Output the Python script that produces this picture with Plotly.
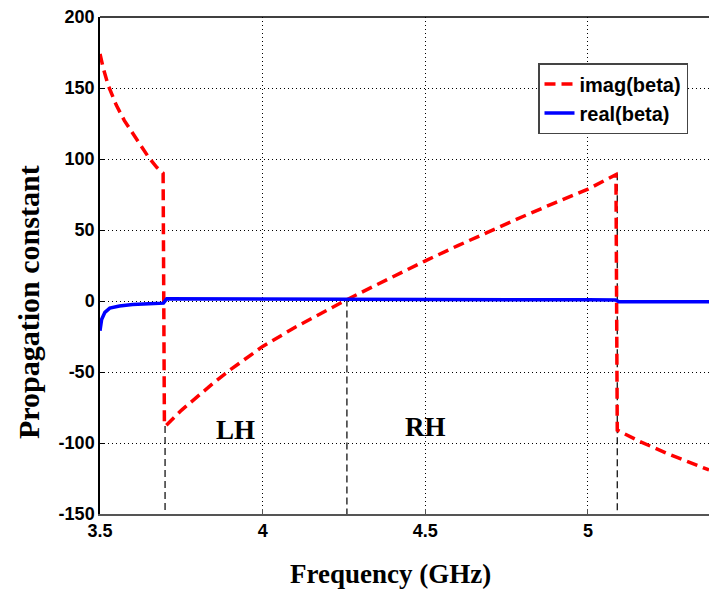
import plotly.graph_objects as go

# imag(beta) segments
imag_x = [3.5, 3.51, 3.525, 3.55, 3.575, 3.6, 3.625, 3.65, 3.675, 3.694, 3.698,
          3.702, 3.75, 3.8, 3.85, 3.9, 3.95, 4.0, 4.1, 4.2, 4.255, 4.3, 4.4, 4.5,
          4.6, 4.7, 4.8, 4.9, 5.0, 5.086, 5.09,
          5.095, 5.16, 5.25, 5.372]
imag_y = [174, 164, 152, 138, 127, 118, 109, 101, 94, 90, -87,
          -88, -77, -67, -57.5, -48.5, -40, -32, -18.5, -6, 0.5, 5.7, 17.2, 28.3,
          39, 49.4, 59.5, 69.3, 78.8, 89, -91,
          -91.5, -99, -108, -119]

# real(beta)
real_x = [3.5, 3.505, 3.515, 3.53, 3.56, 3.6, 3.65, 3.695, 3.705, 4.0, 4.5, 5.0, 5.085, 5.095, 5.372]
real_y = [-21, -13, -8, -5, -3.5, -2.5, -2, -1.5, 1.5, 1.2, 1.0, 0.8, 0.7, -0.6, -0.6]

# boundary markers (vertical dashed lines)
mark_x = [3.7, 3.7, None, 4.259, 4.259, None, 5.09, 5.09]
mark_y = [-88, -150, None, 1, -150, None, 90, -150]

x_ticks = [3.5, 4, 4.5, 5]
y_ticks = [-150, -100, -50, 0, 50, 100, 150, 200]
region_labels = ["LH", "RH"]
region_x = [3.918, 4.5]
region_y = [-91, -89]
box_x0 = [3.80, 4.375]
box_x1 = [4.115, 4.77]
box_y0 = [-110, -110]
box_y1 = [-75, -75]

fig = go.Figure()
fig.add_trace(go.Scatter(x=mark_x, y=mark_y, mode="lines", showlegend=False,
                         line=dict(color="black", width=1.2, dash="7px,4px"), hoverinfo="skip"))
fig.add_trace(go.Scatter(x=imag_x, y=imag_y, mode="lines", name="imag(beta)",
                         line=dict(color="#ff0000", width=3.5, dash="11px,6px")))
fig.add_trace(go.Scatter(x=real_x, y=real_y, mode="lines", name="real(beta)",
                         line=dict(color="#0000ff", width=3.5)))

tick_font = dict(family="Liberation Sans, Arial", size=18, color="black", weight="bold")
fig.update_xaxes(range=[3.5, 5.372], tickvals=x_ticks, ticktext=[str(v) for v in x_ticks],
                 ticks="inside", ticklen=5, tickcolor="#555", showline=True, linecolor="#555",
                 linewidth=1.5, mirror=False, showgrid=True, gridcolor="black", griddash="1px,3px",
                 gridwidth=1, tickfont=tick_font, zeroline=False, layer="below traces")
fig.update_yaxes(range=[-150, 200], tickvals=y_ticks, ticktext=[str(v) for v in y_ticks],
                 ticks="inside", ticklen=5, tickcolor="black", showline=True, linecolor="black",
                 linewidth=1.5, showgrid=True, gridcolor="black", griddash="1px,3px",
                 gridwidth=1, tickfont=tick_font, zeroline=False)

# top border
fig.add_shape(type="line", xref="paper", yref="paper", x0=0, x1=1, y0=1, y1=1,
              line=dict(color="black", width=1.5))

# white label boxes that hide the grid behind the region labels
for bx0, bx1, by0, by1 in zip(box_x0, box_x1, box_y0, box_y1):
    fig.add_shape(type="rect", x0=bx0, x1=bx1, y0=by0, y1=by1, fillcolor="white",
                  line=dict(width=0), layer="below")

for lbl, lx, ly in zip(region_labels, region_x, region_y):
    fig.add_annotation(x=lx, y=ly, text=f"<b>{lbl}</b>", showarrow=False,
                       xanchor="center", yanchor="middle",
                       font=dict(family="Liberation Serif, Times New Roman", size=27, color="black"))

fig.add_annotation(xref="paper", yref="paper", x=(390 - 100) / 609, y=-(574 - 514) / 497,
                   xanchor="center", yanchor="middle",
                   text="<b>Frequency (GHz)</b>", showarrow=False,
                   font=dict(family="Liberation Serif, Times New Roman", size=27, color="black"))
fig.add_annotation(xref="paper", yref="paper", x=-(100 - 28) / 609, y=(514 - 302) / 497,
                   xanchor="center", yanchor="middle",
                   text="<b>Propagation constant</b>", showarrow=False, textangle=-90,
                   font=dict(family="Liberation Serif, Times New Roman", size=30, color="black"))

fig.update_layout(
    width=709, height=589,
    margin=dict(l=100, r=0, t=17, b=75),
    plot_bgcolor="white", paper_bgcolor="white",
    legend=dict(x=(538 - 100) / 609, y=(514 - 63) / 497, xanchor="left", yanchor="top",
                bgcolor="white", bordercolor="#444", borderwidth=1.5,
                font=dict(family="Liberation Sans, Arial", size=20, color="black", weight="bold"),
                tracegroupgap=0, itemwidth=30),
    showlegend=True,
)
fig.write_html("out.html")
